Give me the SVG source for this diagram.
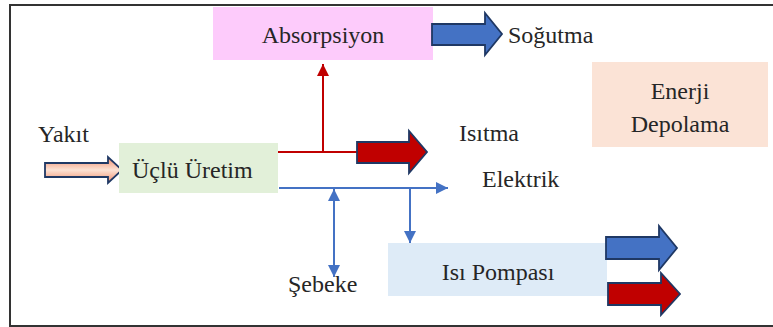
<svg xmlns="http://www.w3.org/2000/svg" width="773" height="327" viewBox="0 0 773 327">
  <defs>
    <style>
      .frame { stroke: #333333; stroke-width: 2; fill: none; }
      .blk { stroke: #1F3864; stroke-width: 1.8; stroke-linejoin: miter; }
      .red { stroke: #C00000; stroke-width: 2; fill: none; }
      .blue { stroke: #4472C4; stroke-width: 2; fill: none; }
    </style>
    <linearGradient id="gYakit" x1="0" y1="0" x2="0" y2="1">
      <stop offset="0" stop-color="#F08C6A"/>
      <stop offset="0.5" stop-color="#FCE2D4"/>
      <stop offset="1" stop-color="#F08C6A"/>
    </linearGradient>
    <marker id="ahRed" viewBox="0 0 12 12" refX="12" refY="6" markerWidth="12" markerHeight="12" markerUnits="userSpaceOnUse" orient="auto">
      <path d="M0,0 L12,6 L0,12 Z" fill="#C00000"/>
    </marker>
    <marker id="ahBlue" viewBox="0 0 12 12" refX="12" refY="6" markerWidth="12" markerHeight="12" markerUnits="userSpaceOnUse" orient="auto-start-reverse">
      <path d="M0,0 L12,6 L0,12 Z" fill="#4472C4"/>
    </marker>
  </defs>

  <rect x="0" y="0" width="773" height="327" fill="#FFFFFF"/>

  <g id="frame">
    <path class="frame" d="M9,5 H773"/>
    <path class="frame" d="M10,4 V326"/>
    <path class="frame" d="M9,326 H773"/>
  </g>

  <g id="connectors">
    <path class="red" d="M277,152 H358"/>
    <path class="red" d="M323,152 V64" marker-end="url(#ahRed)"/>
    <path class="blue" d="M279,188 H448" marker-end="url(#ahBlue)"/>
    <path class="blue" d="M334,189 V277" marker-start="url(#ahBlue)" marker-end="url(#ahBlue)"/>
    <path class="blue" d="M410,188 V243" marker-end="url(#ahBlue)"/>
  </g>

  <g id="absorpsiyon">
    <rect x="213" y="7" width="220" height="53" fill="#FDCBFB"/>
    <text x="323" y="43" font-family="Liberation Serif" font-size="24" fill="#262626" text-anchor="middle">Absorpsiyon</text>
  </g>

  <g id="sogutma">
    <path class="blk" d="M432,24 H485 V13 L502,34 L485,55 V45 H432 Z" fill="#4472C4"/>
    <text x="508" y="43" font-family="Liberation Serif" font-size="24" fill="#262626">Soğutma</text>
  </g>

  <g id="enerji-depolama">
    <rect x="592" y="62" width="176" height="85" fill="#FBE3D6"/>
    <text x="680" y="99" font-family="Liberation Serif" font-size="24" fill="#262626" text-anchor="middle">Enerji</text>
    <text x="680" y="132" font-family="Liberation Serif" font-size="24" fill="#262626" text-anchor="middle">Depolama</text>
  </g>

  <g id="yakit">
    <text x="38" y="142" font-family="Liberation Serif" font-size="24" fill="#262626">Yakıt</text>
    <path class="blk" d="M45,163 H108 V157 L122,170 L108,183 V177 H45 Z" fill="url(#gYakit)"/>
  </g>

  <g id="uclu-uretim">
    <rect x="119" y="143" width="159" height="50" fill="#E2F0D9"/>
    <text x="132" y="178" font-family="Liberation Serif" font-size="24" fill="#262626">Üçlü Üretim</text>
  </g>

  <g id="isitma">
    <path class="blk" d="M357,142 H409 V131 L427,152 L409,173 V163 H357 Z" fill="#C00000"/>
    <text x="459" y="141" font-family="Liberation Serif" font-size="24" fill="#262626">Isıtma</text>
  </g>

  <g id="elektrik">
    <text x="482" y="187" font-family="Liberation Serif" font-size="24" fill="#262626">Elektrik</text>
  </g>

  <g id="sebeke">
    <text x="288" y="292" font-family="Liberation Serif" font-size="24" fill="#262626">Şebeke</text>
  </g>

  <g id="isi-pompasi">
    <rect x="388" y="243" width="219" height="53" fill="#DEEBF7"/>
    <text x="498" y="280" font-family="Liberation Serif" font-size="24" fill="#262626" text-anchor="middle">Isı Pompası</text>
    <path class="blk" d="M606,237 H659 V226 L677,248 L659,270 V259 H606 Z" fill="#4472C4"/>
    <path class="blk" d="M608,283 H661 V273 L680,294 L661,315 V305 H608 Z" fill="#C00000"/>
  </g>
</svg>
